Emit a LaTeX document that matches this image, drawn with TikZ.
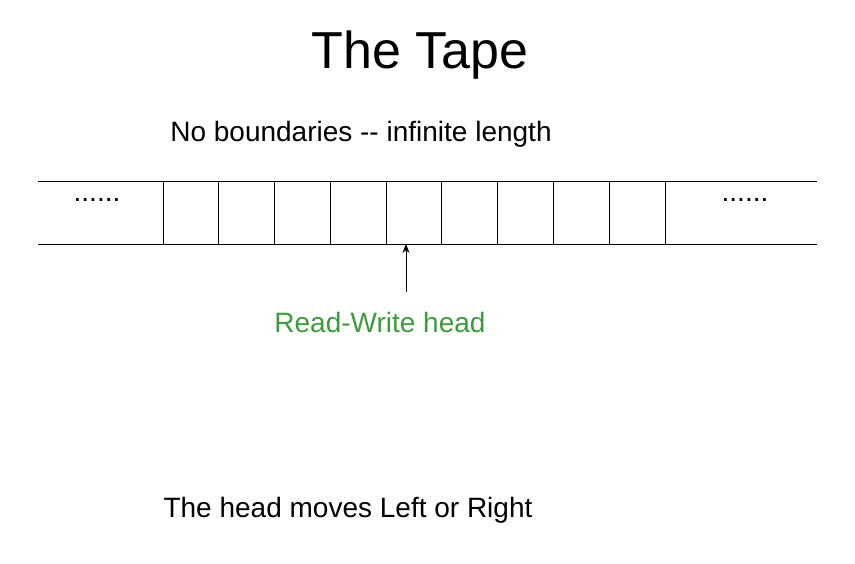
\documentclass[tikz,border=0pt]{standalone}
\usepackage{fontspec}
\setmainfont{Liberation Sans}[Ligatures=NoCommon]
\definecolor{hg}{RGB}{60,155,60}
\usetikzlibrary{arrows.meta}
\begin{document}
\begin{tikzpicture}[x=1pt,y=-1pt,line width=0.8pt,
  txt/.style={inner sep=0pt,anchor=center},
  lab/.style={txt,font=\fontsize{28}{32}\selectfont}]
\useasboundingbox (0,0) rectangle (855,563);
\node[txt,font=\fontsize{52}{60}\selectfont] (title) at (420,55) {The Tape};
\node[lab] (nb) at (361,134) {No boundaries -{}- infinite length};
\draw (38,181) -- (817,181);
\draw (38,244) -- (817,244);
\foreach \x in {163,218,274,330,386,441,497,553,609,665} \draw (\x,181) -- (\x,244);
\coordinate (cell) at (406,244);
\node[lab] (d1) at (97,200) {......};
\node[lab] (d2) at (745,200) {......};
\coordinate (tail) at (406,292);
\draw[-{Stealth[length=9pt,width=7pt]}] (tail) -- (cell);
\node[lab,text=hg] (rw) at (380,322) {Read-Write head};
\node[lab] (mv) at (348,510) {The head moves Left or Right};
\end{tikzpicture}
\end{document}
